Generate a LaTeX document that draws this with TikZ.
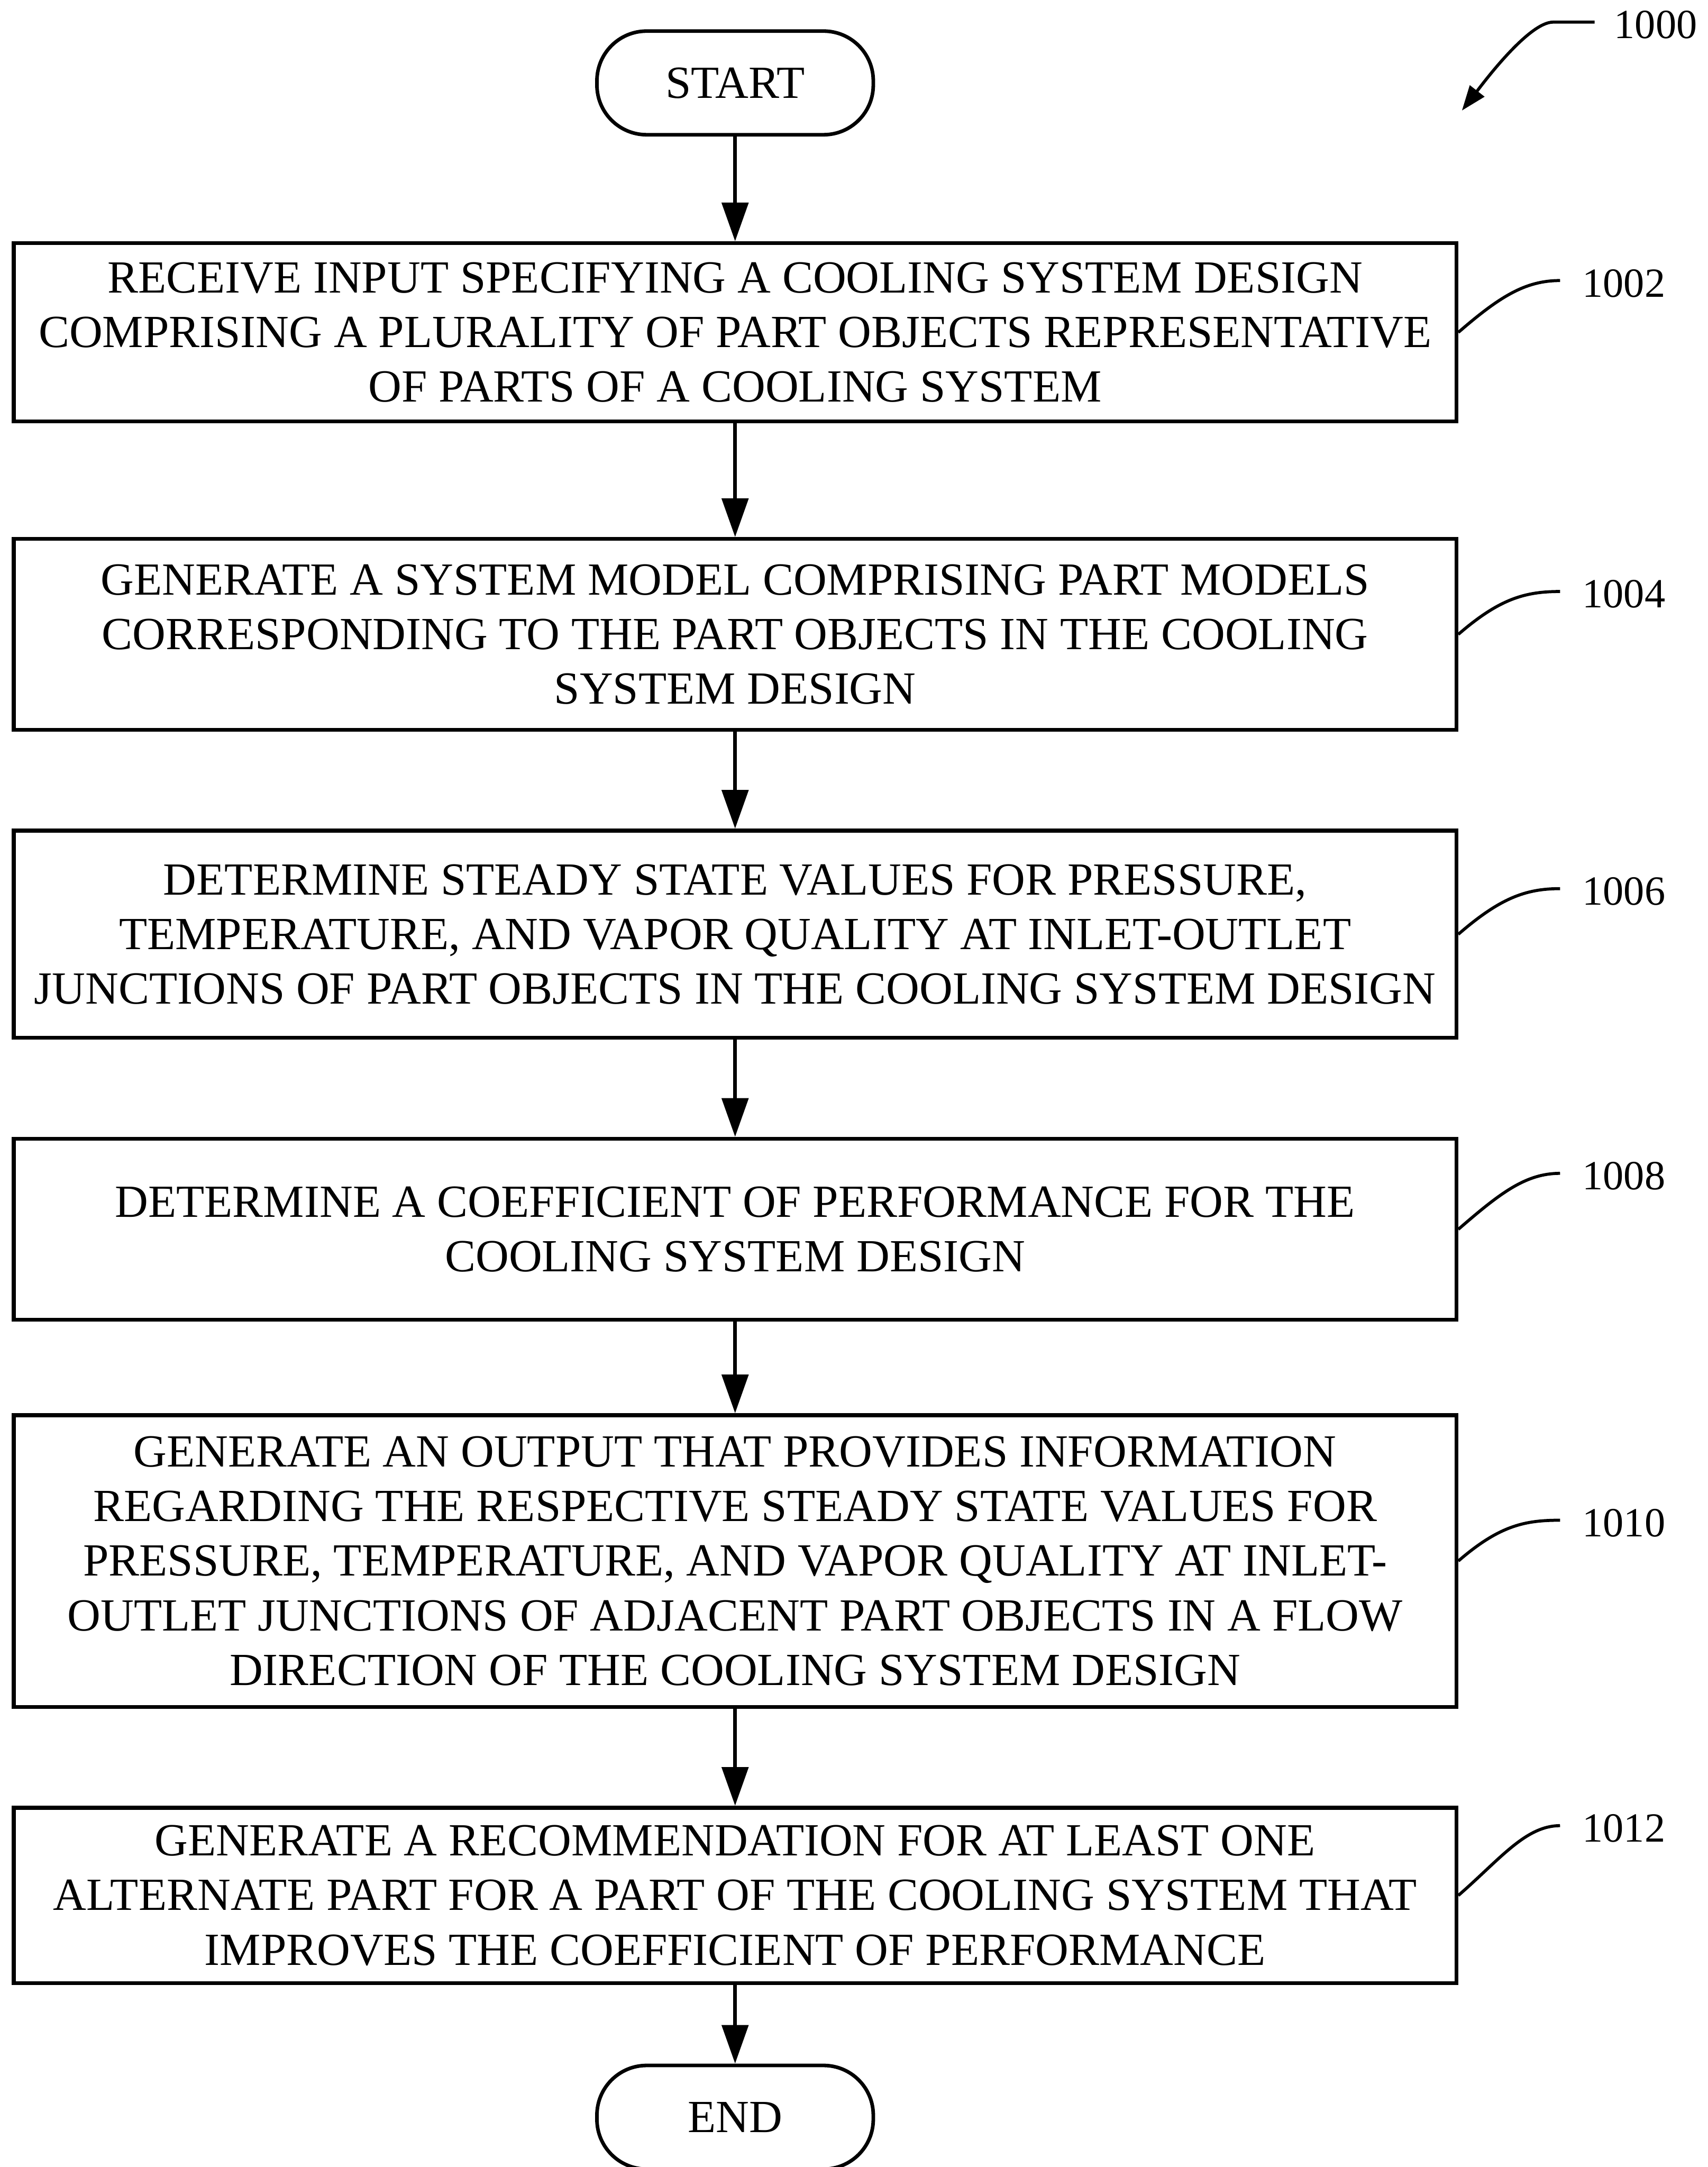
\documentclass[tikz,border=0pt]{standalone}
\usepackage{fontspec}
\setmainfont{Liberation Serif}
\usetikzlibrary{arrows.meta}
\begin{document}
\begin{tikzpicture}[x=1pt,y=-1pt,
  stepbox/.style={draw,line width=2.8pt,minimum width=1044pt,align=center,inner sep=0pt,
    font=\fontsize{33.3}{39.5}\selectfont},
  term/.style={draw,line width=2.6pt,rounded corners=36pt,minimum width=200pt,minimum height=75pt,
    inner sep=0pt,font=\fontsize{33.3}{40}\selectfont},
  flow/.style={line width=2.8pt,-{Triangle[length=28pt,width=19pt]}},
  refl/.style={font=\fontsize{30}{36}\selectfont,inner sep=0pt,anchor=west},
  lead/.style={line width=2.2pt}]
\useasboundingbox (0,0) rectangle (1236,1568);
\node[term] (start) at (532,60) {START};
\node[stepbox,minimum height=129pt] (b1) at (532,240.5) {RECEIVE INPUT SPECIFYING A COOLING SYSTEM DESIGN\\COMPRISING A PLURALITY OF PART OBJECTS REPRESENTATIVE\\OF PARTS OF A COOLING SYSTEM};
\node[stepbox,minimum height=138pt] (b2) at (532,459) {GENERATE A SYSTEM MODEL COMPRISING PART MODELS\\CORRESPONDING TO THE PART OBJECTS IN THE COOLING\\SYSTEM DESIGN};
\node[stepbox,minimum height=150pt] (b3) at (532,676) {DETERMINE STEADY STATE VALUES FOR PRESSURE,\\TEMPERATURE, AND VAPOR QUALITY AT INLET-OUTLET\\JUNCTIONS OF PART OBJECTS IN THE COOLING SYSTEM DESIGN};
\node[stepbox,minimum height=131pt] (b4) at (532,889.5) {DETERMINE A COEFFICIENT OF PERFORMANCE FOR THE\\COOLING SYSTEM DESIGN};
\node[stepbox,minimum height=211pt] (b5) at (532,1129.5) {GENERATE AN OUTPUT THAT PROVIDES INFORMATION\\REGARDING THE RESPECTIVE STEADY STATE VALUES FOR\\PRESSURE, TEMPERATURE, AND VAPOR QUALITY AT INLET-\\OUTLET JUNCTIONS OF ADJACENT PART OBJECTS IN A FLOW\\DIRECTION OF THE COOLING SYSTEM DESIGN};
\node[stepbox,minimum height=127pt] (b6) at (532,1371.5) {GENERATE A RECOMMENDATION FOR AT LEAST ONE\\ALTERNATE PART FOR A PART OF THE COOLING SYSTEM THAT\\IMPROVES THE COEFFICIENT OF PERFORMANCE};
\node[term] (end) at (532,1532) {END};
\draw[flow] (start) -- (b1);
\draw[flow] (b1) -- (b2);
\draw[flow] (b2) -- (b3);
\draw[flow] (b3) -- (b4);
\draw[flow] (b4) -- (b5);
\draw[flow] (b5) -- (b6);
\draw[flow] (b6) -- (end);
% reference labels
\node[refl] (l0) at (1168,18) {1000};
\node[refl] (l1) at (1145,205) {1002};
\node[refl] (l2) at (1145,430) {1004};
\node[refl] (l3) at (1145,645) {1006};
\node[refl] (l4) at (1145,851) {1008};
\node[refl] (l5) at (1145,1102) {1010};
\node[refl] (l6) at (1145,1323) {1012};
\coordinate (a0) at (1058,80);
\draw[line width=2.2pt,-{Triangle[length=18pt,width=13pt]}] ([xshift=-14pt,yshift=2pt]l0.west) -- ++(-30,0) .. controls +(-18,0) and +(14,-18) .. (a0);
\foreach \i in {1,...,6}{
  \draw[lead] (b\i.east) .. controls +(30,-26) and +(-25,0) .. ([xshift=-16pt,yshift=2pt]l\i.west);
}
\end{tikzpicture}
\end{document}
